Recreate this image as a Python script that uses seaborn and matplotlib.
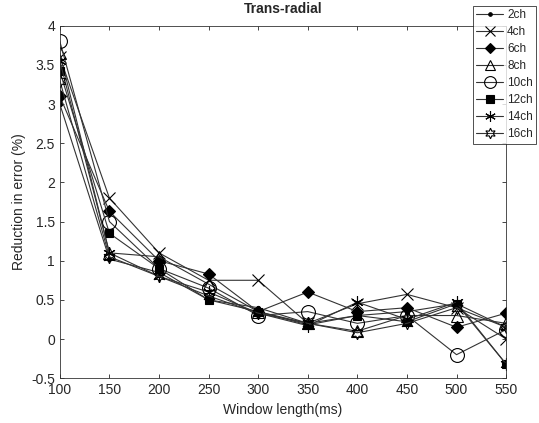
import pandas as pd
import seaborn as sns
import matplotlib.pyplot as plt

window = [100, 150, 200, 250, 300, 350, 400, 450, 500, 550]

ch2 = [3.0, 1.02, 0.85, 0.5, 0.4, 0.2, 0.3, 0.35, 0.45, 0.15]
ch4 = [3.6, 1.8, 1.1, 0.75, 0.75, 0.2, 0.45, 0.57, 0.4, 0.0]
ch6 = [3.1, 1.63, 1.0, 0.83, 0.35, 0.6, 0.35, 0.4, 0.15, 0.33]
ch8 = [3.65, 1.1, 1.05, 0.7, 0.35, 0.2, 0.1, 0.3, 0.3, 0.2]
ch10 = [3.8, 1.5, 0.9, 0.65, 0.3, 0.35, 0.2, 0.3, -0.2, 0.12]
ch12 = [3.42, 1.35, 0.9, 0.5, 0.35, 0.18, 0.3, 0.22, 0.45, -0.32]
ch14 = [3.55, 1.1, 0.8, 0.6, 0.33, 0.17, 0.47, 0.25, 0.47, -0.32]
ch16 = [3.3, 1.05, 0.8, 0.55, 0.33, 0.2, 0.08, 0.2, 0.4, 0.15]

labels = ['2ch', '4ch', '6ch', '8ch', '10ch', '12ch', '14ch', '16ch']
series = [ch2, ch4, ch6, ch8, ch10, ch12, ch14, ch16]

# marker, size, filled
styles = {
    '2ch': ('.', 6, True),
    '4ch': ('x', 8, True),
    '6ch': ('D', 6, True),
    '8ch': ('^', 8, False),
    '10ch': ('o', 10, False),
    '12ch': ('s', 6, True),
    '14ch': ((6, 2, 0), 9, True),
    '16ch': ((6, 1, 0), 9, False),
}

sns.set_style("ticks")
plt.rcParams['font.family'] = ['Liberation Sans', 'DejaVu Sans']

fig = plt.figure(figsize=(5.39, 4.23), dpi=100)
ax = fig.add_axes([0.111, 0.106, 0.828, 0.833])

for lab, vals in zip(labels, series):
    m, ms, filled = styles[lab]
    df = pd.DataFrame({'window': window, 'val': vals})
    sns.lineplot(data=df, x='window', y='val', ax=ax, color='#333333', lw=0.8,
                 marker=m, markersize=ms, markeredgecolor='black',
                 markerfacecolor='black' if filled else 'none',
                 markeredgewidth=0.8, label=lab)

ax.set_xlim(100, 550)
ax.set_ylim(-0.5, 4)
ax.set_xticks(window)
ax.set_yticks([-0.5, 0, 0.5, 1, 1.5, 2, 2.5, 3, 3.5, 4])
ax.set_yticklabels(['-0.5', '0', '0.5', '1', '1.5', '2', '2.5', '3', '3.5', '4'])
ax.tick_params(direction='in', length=3, labelsize=10, top=True, right=True, width=0.6,
               labelcolor='#262626')
for s in ax.spines.values():
    s.set_linewidth(0.6)
    s.set_color('#333333')
ax.set_xlabel('Window length(ms)', fontsize=10)
ax.set_ylabel('Reduction in error (%)', fontsize=10)
ax.set_title('Trans-radial', fontsize=10, fontweight='bold', pad=9)

leg = ax.legend(loc='upper right', bbox_to_anchor=(1.006, 1.0), bbox_transform=fig.transFigure,
                fontsize=8.5, frameon=True, fancybox=False, edgecolor='black',
                handlelength=2.3, labelspacing=0.42, borderpad=0.3, handletextpad=0.3,
                markerscale=0.85)
leg.get_frame().set_linewidth(0.6)

fig.savefig('out.png', dpi=100)
